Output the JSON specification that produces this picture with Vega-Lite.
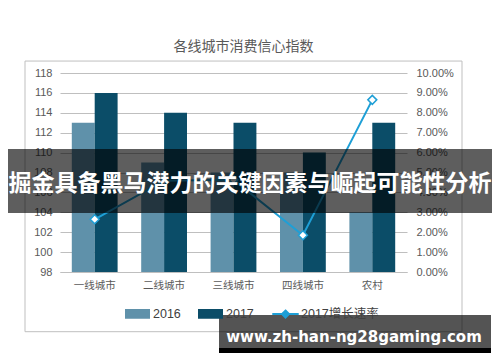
{
  "$schema": "https://vega.github.io/schema/vega-lite/v6.json",
  "width": 347,
  "height": 199,
  "autosize": {"type": "none"},
  "padding": {"left": 60, "top": 73, "right": 93, "bottom": 90},
  "background": "white",
  "config": {"view": {"stroke": null}},
  "title": {"text": "各线城市消费信心指数", "font": "Noto Sans CJK SC", "fontSize": 14, "fontWeight": "normal", "color": "#595959", "offset": 7, "dx": 10, "anchor": "middle"},
  "datasets": {
    "bars": [
      {"city": "一线城市", "series": "2016", "value": 113},
      {"city": "一线城市", "series": "2017", "value": 116},
      {"city": "二线城市", "series": "2016", "value": 109},
      {"city": "二线城市", "series": "2017", "value": 114},
      {"city": "三线城市", "series": "2016", "value": 108},
      {"city": "三线城市", "series": "2017", "value": 113},
      {"city": "四线城市", "series": "2016", "value": 108},
      {"city": "四线城市", "series": "2017", "value": 110},
      {"city": "农村", "series": "2016", "value": 104},
      {"city": "农村", "series": "2017", "value": 113}
    ],
    "rate": [
      {"city": "一线城市", "series": "2017增长速率", "rate": 0.0265},
      {"city": "二线城市", "series": "2017增长速率", "rate": 0.0459},
      {"city": "三线城市", "series": "2017增长速率", "rate": 0.0463},
      {"city": "四线城市", "series": "2017增长速率", "rate": 0.0185},
      {"city": "农村", "series": "2017增长速率", "rate": 0.0865}
    ]
  },
  "layer": [
    {
      "data": {"name": "bars"},
      "mark": {"type": "bar"},
      "encoding": {
        "x": {"field": "city", "type": "nominal", "title": null,
              "scale": {"domain": ["一线城市", "二线城市", "三线城市", "四线城市", "农村"], "paddingInner": 0.34, "paddingOuter": 0.17},
              "axis": {"labelAngle": 0, "ticks": false, "domain": true, "domainColor": "#bfbfbf", "labelPadding": 8, "labelFontSize": 10.5, "labelColor": "#595959", "labelFont": "Noto Sans CJK SC"}},
        "xOffset": {"field": "series", "type": "nominal", "scale": {"domain": ["2016", "2017"], "paddingInner": 0, "paddingOuter": 0}},
        "y": {"field": "value", "type": "quantitative", "title": null,
              "scale": {"domain": [98, 118], "nice": false, "zero": false},
              "axis": {"orient": "left", "tickCount": 10, "labelOverlap": false, "labelFlush": false, "domain": false, "ticks": false, "labelPadding": 8, "labelFontSize": 11, "labelColor": "#595959", "labelFont": "Liberation Sans", "gridColor": "#bfbfbf", "gridWidth": 1}},
        "y2": {"datum": 98},
        "color": {"field": "series", "type": "nominal",
                  "scale": {"domain": ["2016", "2017", "2017增长速率"], "range": ["#5f91aa", "#0b4d68", "#1e9fd6"]},
                  "legend": {"orient": "none", "legendX": 65, "legendY": 228, "direction": "horizontal", "title": null,
                             "symbolSize": 529, "labelOffset": 3, "columnPadding": 14, "labelFontSize": 12.5, "labelColor": "#404040", "labelFont": "Liberation Sans, Noto Sans CJK SC",
                             "encode": {"symbols": {"update": {
                               "shape": {"signal": "datum.value === '2017增长速率' ? 'M-1.15,0H-0.3M0.3,0H1.15M0,-0.3L0.3,0L0,0.3L-0.3,0Z' : 'M-1,-0.33H1V0.33H-1Z'"},
                               "fill": {"signal": "datum.value === '2017增长速率' ? '#ffffff' : (datum.value === '2016' ? '#5f91aa' : '#0b4d68')"},
                               "stroke": {"signal": "datum.value === '2017增长速率' ? '#1e9fd6' : 'transparent'"},
                               "strokeWidth": {"value": 2},
                               "opacity": {"value": 1}
                             }}}}}
      }
    },
    {
      "data": {"name": "rate"},
      "layer": [
        {
          "mark": {"type": "line", "strokeWidth": 2},
          "encoding": {
            "x": {"field": "city", "type": "nominal"},
            "y": {"field": "rate", "type": "quantitative", "title": null,
                  "scale": {"domain": [0, 0.1], "nice": false, "zero": false},
                  "axis": {"orient": "right", "tickCount": 10, "format": ".2%", "labelOverlap": false, "labelFlush": false, "grid": false, "domain": false, "ticks": false, "labelPadding": 9, "labelFontSize": 11, "labelColor": "#595959", "labelFont": "Liberation Sans"}},
            "color": {"field": "series", "type": "nominal"}
          }
        },
        {
          "mark": {"type": "point", "shape": "diamond", "filled": true, "fill": "#ffffff", "stroke": "#1e9fd6", "strokeWidth": 1.5, "size": 80, "opacity": 1},
          "encoding": {
            "x": {"field": "city", "type": "nominal"},
            "y": {"field": "rate", "type": "quantitative"}
          }
        }
      ]
    },
    {
      "data": {"values": [{}]},
      "layer": [
        {
          "mark": {"type": "rect", "fill": null, "stroke": "#bfbfbf", "strokeWidth": 1},
          "encoding": {
            "x": {"value": -35}, "x2": {"value": 402},
            "y": {"datum": 119.2, "type": "quantitative", "scale": {"domain": [98, 118], "nice": false, "zero": false}, "axis": null},
            "y2": {"datum": 92.0}
          }
        },
        {
          "mark": {"type": "rect", "fill": "#000000", "opacity": 0.63},
          "encoding": {
            "x": {"value": -52}, "x2": {"value": 432},
            "y": {"datum": 110.36, "type": "quantitative"},
            "y2": {"datum": 103.93}
          }
        },
        {
          "mark": {"type": "text", "font": "Noto Sans CJK SC", "fontSize": 23, "fontWeight": "bold", "color": "#ffffff", "align": "center", "baseline": "middle"},
          "encoding": {
            "x": {"value": 190},
            "y": {"datum": 106.85, "type": "quantitative"},
            "text": {"value": "掘金具备黑马潜力的关键因素与崛起可能性分析"}
          }
        },
        {
          "mark": {"type": "rect", "fill": "#000000", "opacity": 0.67},
          "encoding": {
            "x": {"value": 159}, "x2": {"value": 431},
            "y": {"datum": 93.68, "type": "quantitative"},
            "y2": {"datum": 90.36}
          }
        },
        {
          "mark": {"type": "rect", "fill": "#000000"},
          "encoding": {
            "x": {"value": 159}, "x2": {"value": 431},
            "y": {"datum": 90.36, "type": "quantitative"},
            "y2": {"datum": 89.86}
          }
        },
        {
          "mark": {"type": "text", "font": "DejaVu Sans", "fontSize": 15, "fontWeight": "bold", "color": "#ffffff", "align": "center", "baseline": "middle"},
          "encoding": {
            "x": {"value": 294},
            "y": {"datum": 91.5, "type": "quantitative"},
            "text": {"value": "www.zh-han-ng28gaming.com"}
          }
        }
      ]
    }
  ],
  "resolve": {"scale": {"y": "independent"}, "axis": {"y": "independent"}}
}
